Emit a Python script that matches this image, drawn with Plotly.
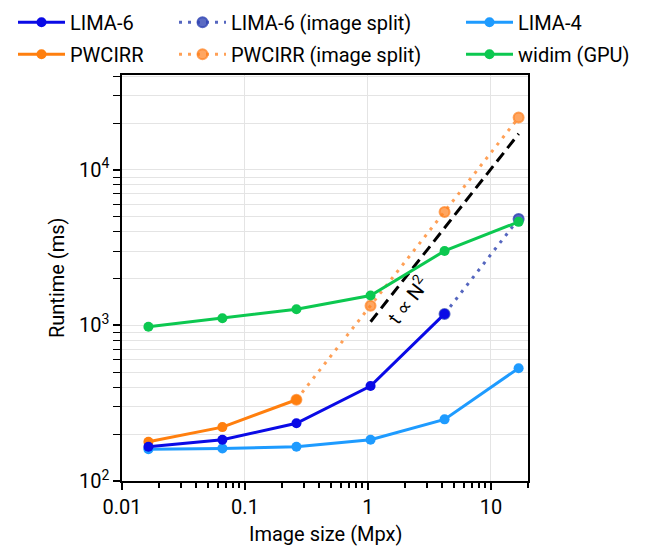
import plotly.graph_objects as go
import numpy as np

# Data
x_mpx = [0.0164, 0.0655, 0.262, 1.049, 4.194, 16.78]
lima6 = [166, 184, 235, 408, 1186]
lima6_split_x = [4.194, 16.78]
lima6_split = [1186, 4840]
lima4 = [160, 162, 166, 184, 249, 531]
pwcirr = [179, 222, 333]
pwcirr_split_x = [0.262, 1.049, 4.194, 16.78]
pwcirr_split = [333, 1340, 5370, 21700]
widim = [981, 1112, 1271, 1556, 3013, 4634]
ref_x = [1.05, 16.8]
ref_y = [1057, 17060]

FONT = "Roboto"
FS = 20
C_L6 = "#0a0ae6"
C_L6S = "rgba(55,75,180,0.85)"
C_L4 = "#1e9bff"
C_PW = "#ff7f0e"
C_PWS = "rgba(255,128,30,0.75)"
C_WI = "#0cc850"

fig = go.Figure()

def add(x, y, name, color, legend, rank, dash="solid", mcolor=None, mline=None):
    fig.add_trace(go.Scatter(
        x=x, y=y, mode="lines+markers", name=name,
        line=dict(color=color, width=3, dash=dash),
        marker=dict(size=10, color=mcolor or color,
                    line=dict(width=2 if mline else 0, color=mline or color)),
        legend=legend, legendgroup=name, legendrank=rank))

add(x_mpx, lima4, "LIMA-4", C_L4, "legend3", 1)
add(pwcirr_split_x, pwcirr_split, "PWCIRR (image split)", C_PWS, "legend2", 2,
    dash="3px,6px", mcolor="rgba(255,128,30,0.7)", mline="rgba(255,128,30,0.7)")
add(x_mpx[:3], pwcirr, "PWCIRR", C_PW, "legend", 2)
add(lima6_split_x, lima6_split, "LIMA-6 (image split)", C_L6S, "legend2", 1,
    dash="3px,6px", mcolor="rgba(50,70,180,0.8)", mline="rgba(50,70,180,0.8)")
add(x_mpx[:5], lima6, "LIMA-6", C_L6, "legend", 1)

fig.add_trace(go.Scatter(x=ref_x, y=ref_y, mode="lines", showlegend=False,
                         line=dict(color="black", width=3, dash="11px,6px")))

add(x_mpx, widim, "widim (GPU)", C_WI, "legend3", 2)

fig.add_annotation(x=np.log10(2.08), y=np.log10(1460), text="t ∝ N<sup>2</sup>",
                   showarrow=False, textangle=-52,
                   font=dict(family=FONT, size=FS, color="black"))
fig.add_annotation(xref="paper", yref="paper", x=0.5, y=-0.13, yanchor="middle",
                   text="Image size (Mpx)", showarrow=False,
                   font=dict(family=FONT, size=FS, color="black"))
fig.add_annotation(xref="paper", yref="paper", x=-0.16, y=0.5, xanchor="center",
                   text="Runtime (ms)", showarrow=False, textangle=-90,
                   font=dict(family=FONT, size=FS, color="black"))

minor_x = [m * 10.0 ** d for d in range(-2, 2) for m in range(2, 10)]
minor_y = [m * 10.0 ** d for d in range(2, 5) for m in range(2, 10)]

fig.update_xaxes(type="log", range=[-2, np.log10(20)], autorange=False,
                 tickmode="array",
                 tickvals=[0.01, 0.1, 1, 10], ticktext=["0.01", "0.1", "1", "10"],
                 ticks="outside", ticklen=7, tickwidth=1.5, tickcolor="black",
                 showline=True, linecolor="black", linewidth=1.5, mirror=True,
                 showgrid=True, gridcolor="#e4e4e4", gridwidth=1,
                 minor=dict(tickmode="array", tickvals=minor_x, ticks="outside", ticklen=5,
                            tickwidth=1.5, tickcolor="black", showgrid=False),
                 tickfont=dict(family=FONT, size=FS, color="black"), zeroline=False,
                 automargin=False)
fig.update_yaxes(type="log", range=[2, 4.61], autorange=False,
                 tickmode="array",
                 tickvals=[100, 1000, 10000],
                 ticktext=["10<sup>2</sup>", "10<sup>3</sup>", "10<sup>4</sup>"],
                 ticks="outside", ticklen=7, tickwidth=1.5, tickcolor="black",
                 showline=True, linecolor="black", linewidth=1.5, mirror=True,
                 showgrid=True, gridcolor="#e4e4e4", gridwidth=1,
                 minor=dict(tickmode="array", tickvals=minor_y, ticks="outside", ticklen=7,
                            tickwidth=1.2, tickcolor="black", showgrid=True, gridcolor="#e4e4e4"),
                 tickfont=dict(family=FONT, size=FS, color="black"), zeroline=False,
                 automargin=False)

leg_common = dict(orientation="v", xanchor="left", yanchor="top",
                  yref="container", xref="container", y=0.995,
                  bgcolor="rgba(0,0,0,0)", tracegroupgap=3, itemwidth=47,
                  font=dict(family=FONT, size=FS, color="black"))
fig.update_layout(
    width=648, height=548,
    margin=dict(l=122, r=120, t=75, b=67, autoexpand=False),
    plot_bgcolor="white", paper_bgcolor="white",
    legend=dict(x=13 / 648, **leg_common),
    legend2=dict(x=174 / 648, **leg_common),
    legend3=dict(x=461 / 648, **leg_common),
)

fig.write_html("out.html")
